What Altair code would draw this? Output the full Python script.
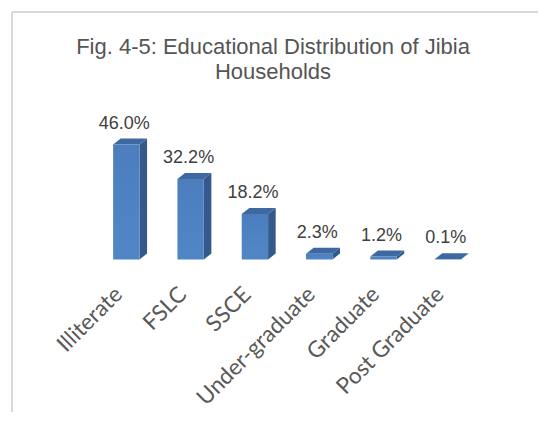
import altair as alt
import pandas as pd

# ---- data ----
CATEGORIES = ["Illiterate", "FSLC", "SSCE", "Under-graduate", "Graduate", "Post Graduate"]
SHARES = [46.0, 32.2, 18.2, 2.3, 1.2, 0.1]
TITLE_LINES = ["Fig. 4-5: Educational Distribution of Jibia", "Households"]

# ---- pseudo-3D bar geometry (in scale units) ----
HALF = 0.205      # half width of the front face (category slots)
DX = 0.118        # depth of the bar, horizontal (slots)
DY = 2.4          # depth of the bar, vertical (% units)

W, H = 530, 404
Y_TOP = 100.6

front = pd.DataFrame({
    "cat": CATEGORIES,
    "i": list(range(len(CATEGORIES))),
    "v": SHARES,
})
front["x"] = front["i"] - HALF
front["x2"] = front["i"] + HALF
front["label"] = [f"{v:.1f}%" for v in SHARES]

side_rows, top_rows = [], []
for i, (c, v) in enumerate(zip(CATEGORIES, SHARES)):
    side_rows += [
        {"cat": c, "x": i + HALF, "y": v, "y2": 0.0},
        {"cat": c, "x": i + HALF + DX, "y": v + DY, "y2": DY},
    ]
    top_rows += [
        {"cat": c, "x": i - HALF, "y": v, "y2": v},
        {"cat": c, "x": i - HALF + DX, "y": v + DY, "y2": v},
        {"cat": c, "x": i + HALF, "y": v + DY, "y2": v},
        {"cat": c, "x": i + HALF + DX, "y": v + DY, "y2": v + DY},
    ]
side = pd.DataFrame(side_rows)
top = pd.DataFrame(top_rows)

xs = alt.Scale(domain=[-1.84, -1.84 + W / 64.3], nice=False, zero=False)
ys = alt.Scale(domain=[Y_TOP - H / 2.5, Y_TOP], nice=False, zero=False)

side_layer = alt.Chart(side).mark_area(orient="vertical", color="#34598A").encode(
    x=alt.X("x:Q", scale=xs, axis=None),
    y=alt.Y("y:Q", scale=ys, axis=None),
    y2="y2:Q",
    detail="cat:N",
)
top_layer = alt.Chart(top).mark_area(orient="vertical", color="#3D68A1").encode(
    x=alt.X("x:Q", scale=xs, axis=None),
    y=alt.Y("y:Q", scale=ys, axis=None),
    y2="y2:Q",
    detail="cat:N",
)
front_layer = alt.Chart(front).mark_rect(
    color=alt.Gradient(
        gradient="linear", x1=0, y1=0, x2=0, y2=1,
        stops=[alt.GradientStop(color="#4C7EBE", offset=0),
               alt.GradientStop(color="#5186C6", offset=1)],
    )
).encode(
    x=alt.X("x:Q", scale=xs, axis=None),
    x2="x2:Q",
    y=alt.Y("v:Q", scale=ys, axis=None),
    y2=alt.datum(0),
)
value_labels = alt.Chart(front).mark_text(
    font="Liberation Sans", fontSize=18, color="#404040",
    baseline="alphabetic", align="center", dy=-16, dx=-2,
).encode(
    x=alt.X("i:Q", scale=xs, axis=None),
    y=alt.Y("v:Q", scale=ys, axis=None),
    text="label:N",
)
cat_labels = alt.Chart(front).transform_calculate(
    xl="datum.i - 0.12"
).mark_text(
    font="Lato", fontSize=22.5, color="#595959",
    angle=315, align="right", baseline="middle",
).encode(
    x=alt.X("xl:Q", scale=xs, axis=None),
    y=alt.value(283),
    text="cat:N",
)
title = alt.Chart(alt.Data(values=[{"k": 0}])).mark_text(
    text=TITLE_LINES, font="Liberation Sans", fontSize=22, color="#555555",
    align="center", baseline="alphabetic", lineHeight=25,
).encode(x=alt.value(265), y=alt.value(46))

border_v = alt.Chart(alt.Data(values=[{"k": 0}])).mark_rule(
    color="#D9D9D9", strokeWidth=2
).encode(x=alt.value(4), y=alt.value(4), y2=alt.value(H))
border_h = alt.Chart(alt.Data(values=[{"k": 0}])).mark_rule(
    color="#D9D9D9", strokeWidth=2
).encode(x=alt.value(4), x2=alt.value(W), y=alt.value(4))

chart = alt.layer(
    border_v, border_h, side_layer, top_layer, front_layer,
    value_labels, cat_labels, title,
).properties(
    width=W, height=H,
    autosize=alt.AutoSizeParams(type="none"),
    padding=0, background="white",
).configure_view(stroke=None)

chart.save("out.html", embed_options={"renderer": "svg", "actions": False})
